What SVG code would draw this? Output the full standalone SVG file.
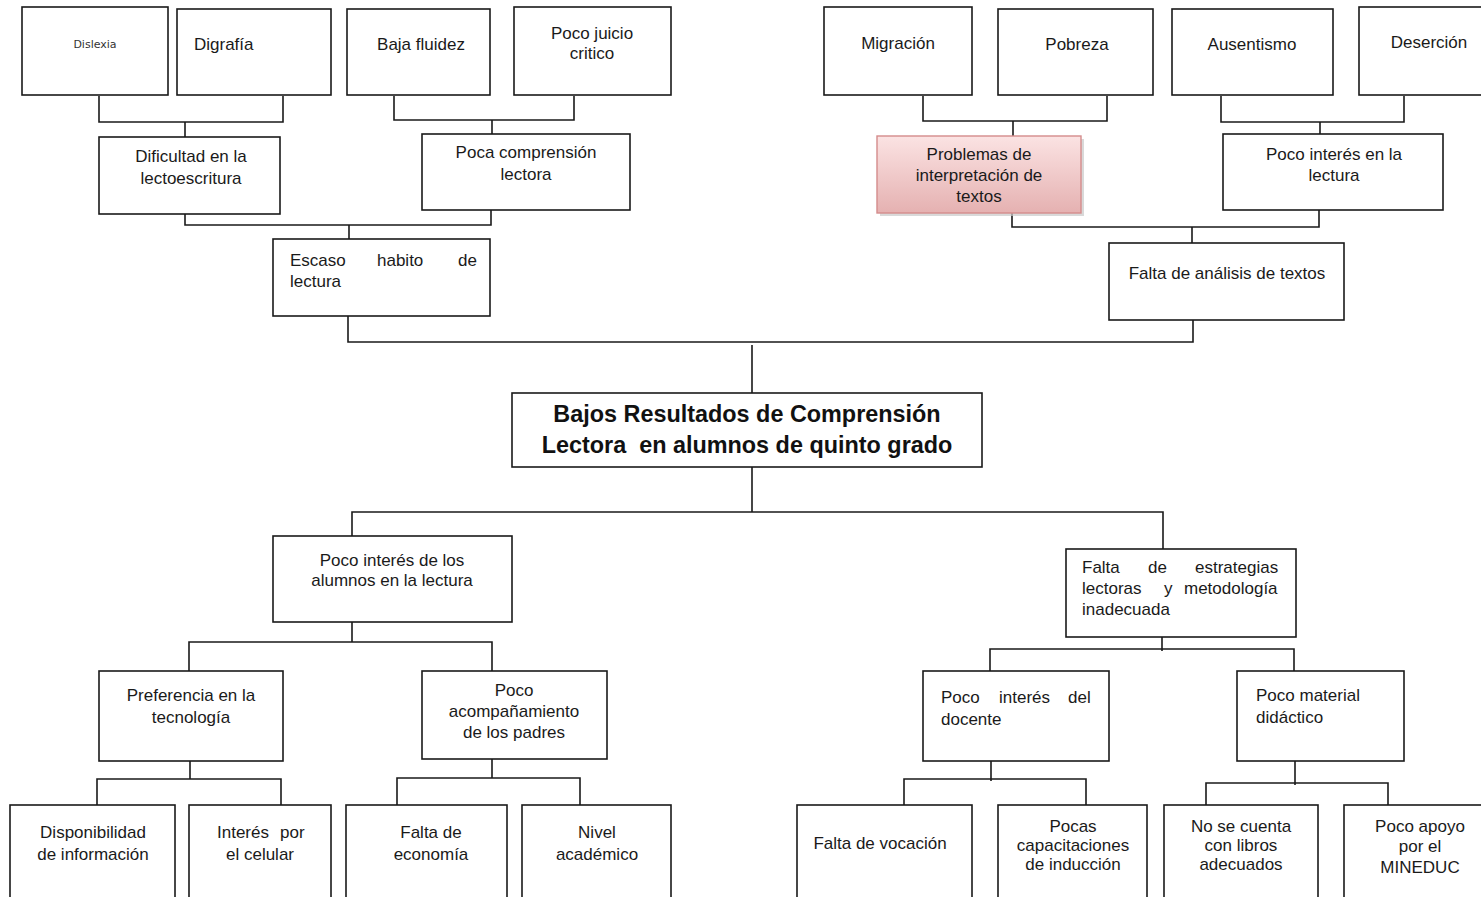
<svg xmlns="http://www.w3.org/2000/svg" width="1481" height="897" viewBox="0 0 1481 897">
<style>
.b{fill:#fff;stroke:#1a1a1a;stroke-width:1.6}
.t{font-family:"Liberation Sans",Arial,sans-serif;font-size:17px;fill:#1a1a1a}
.c{text-anchor:middle}
.w{fill:none;stroke:#1a1a1a;stroke-width:1.6}
.m{font-family:"Liberation Sans",Arial,sans-serif;font-size:23.4px;font-weight:bold;fill:#111;text-anchor:middle}
</style>
<defs>
<linearGradient id="pink" x1="0" y1="0" x2="0" y2="1">
<stop offset="0" stop-color="#fbe3e3"/>
<stop offset="1" stop-color="#e5b1b1"/>
</linearGradient>
</defs>
<rect width="1481" height="897" fill="#fff"/>
<g id="connectors" class="w">
<path d="M99,96V122H283V96M185,122V137"/>
<path d="M394,96V120H574V96M492,120V134"/>
<path d="M185,214V225H491V210M349,225V239"/>
<path d="M923,96V121H1107V96M1013,121V136"/>
<path d="M1221,96V122H1404V96M1320,122V134"/>
<path d="M1012,213V227H1319V210M1192,227V243"/>
<path d="M348,316V342H1193V320M752,345V393"/>
<path d="M752,467V512M352,536V512H1163V549"/>
<path d="M352,622V642M189,671V642H492V671"/>
<path d="M1162,637V651M990,671V649H1294V671"/>
<path d="M190,761V779M97,805V779H281V805"/>
<path d="M492,759V778M397,805V778H580V805"/>
<path d="M991,761V781M904,805V779H1086V805"/>
<path d="M1295,761V785M1206,805V783H1388V805"/>
</g>
<g id="n-dislexia"><rect class="b" x="22" y="7" width="146" height="88"/><text x="95" y="48" text-anchor="middle" font-family="DejaVu Sans,sans-serif" font-size="11" fill="#333">Dislexia</text></g>
<g id="n-digrafia"><rect class="b" x="177" y="9" width="154" height="86"/><text class="t" x="194" y="50">Digrafía</text></g>
<g id="n-baja"><rect class="b" x="347" y="9" width="143" height="86"/><text class="t c" x="421" y="50">Baja fluidez</text></g>
<g id="n-juicio"><rect class="b" x="514" y="7" width="157" height="88"/><text class="t c"><tspan x="592" y="39">Poco juicio</tspan><tspan x="592" y="59">critico</tspan></text></g>
<g id="n-migracion"><rect class="b" x="824" y="7" width="148" height="88"/><text class="t c" x="898" y="49">Migración</text></g>
<g id="n-pobreza"><rect class="b" x="998" y="9" width="155" height="86"/><text class="t c" x="1077" y="50">Pobreza</text></g>
<g id="n-ausentismo"><rect class="b" x="1172" y="9" width="161" height="86"/><text class="t c" x="1252" y="50">Ausentismo</text></g>
<g id="n-desercion"><rect class="b" x="1359" y="7" width="126" height="88"/><text class="t c" x="1429" y="48">Deserción</text></g>
<g id="n-dificultad"><rect class="b" x="99" y="137" width="181" height="77"/><text class="t c"><tspan x="191" y="162">Dificultad en la</tspan><tspan x="191" y="184">lectoescritura</tspan></text></g>
<g id="n-poca-comprension"><rect class="b" x="422" y="134" width="208" height="76"/><text class="t c"><tspan x="526" y="158">Poca comprensión</tspan><tspan x="526" y="180">lectora</tspan></text></g>
<g id="n-problemas"><rect x="880" y="139" width="204" height="77" fill="#c9c9c9" opacity="0.7"/><rect x="877" y="136" width="204" height="77" fill="url(#pink)" stroke="#d48c8c" stroke-width="1.4"/><text class="t c"><tspan x="979" y="160">Problemas de</tspan><tspan x="979" y="181">interpretación de</tspan><tspan x="979" y="202">textos</tspan></text></g>
<g id="n-poco-interes-lectura"><rect class="b" x="1223" y="134" width="220" height="76"/><text class="t c"><tspan x="1334" y="160">Poco interés en la</tspan><tspan x="1334" y="181">lectura</tspan></text></g>
<g id="n-escaso"><rect class="b" x="273" y="239" width="217" height="77"/><text class="t"><tspan x="290" y="266">Escaso</tspan><tspan x="377" y="266">habito</tspan><tspan x="458" y="266">de</tspan><tspan x="290" y="287">lectura</tspan></text></g>
<g id="n-falta-analisis"><rect class="b" x="1109" y="243" width="235" height="77"/><text class="t c" x="1227" y="279">Falta de análisis de textos</text></g>
<g id="n-main"><rect class="b" x="512" y="393" width="470" height="74"/><text class="m" xml:space="preserve"><tspan x="747" y="422">Bajos Resultados de Comprensión</tspan><tspan x="747" y="453">Lectora  en alumnos de quinto grado</tspan></text></g>
<g id="n-poco-interes-alumnos"><rect class="b" x="273" y="536" width="239" height="86"/><text class="t c"><tspan x="392" y="566">Poco interés de los</tspan><tspan x="392" y="586">alumnos en la lectura</tspan></text></g>
<g id="n-falta-estrategias"><rect class="b" x="1066" y="549" width="230" height="88"/><text class="t"><tspan x="1082" y="573">Falta</tspan><tspan x="1148" y="573">de</tspan><tspan x="1195" y="573">estrategias</tspan><tspan x="1082" y="594">lectoras</tspan><tspan x="1164" y="594">y</tspan><tspan x="1184" y="594">metodología</tspan><tspan x="1082" y="615">inadecuada</tspan></text></g>
<g id="n-preferencia"><rect class="b" x="99" y="671" width="184" height="90"/><text class="t c"><tspan x="191" y="701">Preferencia en la</tspan><tspan x="191" y="723">tecnología</tspan></text></g>
<g id="n-acompanamiento"><rect class="b" x="422" y="671" width="185" height="88"/><text class="t c"><tspan x="514" y="696">Poco</tspan><tspan x="514" y="717">acompañamiento</tspan><tspan x="514" y="738">de los padres</tspan></text></g>
<g id="n-docente"><rect class="b" x="923" y="671" width="186" height="90"/><text class="t"><tspan x="941" y="703">Poco</tspan><tspan x="999" y="703">interés</tspan><tspan x="1068" y="703">del</tspan><tspan x="941" y="725">docente</tspan></text></g>
<g id="n-material"><rect class="b" x="1237" y="671" width="167" height="90"/><text class="t"><tspan x="1256" y="701">Poco material</tspan><tspan x="1256" y="723">didáctico</tspan></text></g>
<g id="n-disponibilidad"><rect class="b" x="10" y="805" width="165" height="96"/><text class="t c"><tspan x="93" y="838">Disponibilidad</tspan><tspan x="93" y="860">de información</tspan></text></g>
<g id="n-celular"><rect class="b" x="189" y="805" width="142" height="96"/><text class="t"><tspan x="217" y="838">Interés</tspan><tspan x="280" y="838">por</tspan><tspan x="260" y="860" text-anchor="middle">el celular</tspan></text></g>
<g id="n-economia"><rect class="b" x="346" y="805" width="161" height="96"/><text class="t c"><tspan x="431" y="838">Falta de</tspan><tspan x="431" y="860">economía</tspan></text></g>
<g id="n-nivel"><rect class="b" x="522" y="805" width="149" height="96"/><text class="t c"><tspan x="597" y="838">Nivel</tspan><tspan x="597" y="860">académico</tspan></text></g>
<g id="n-vocacion"><rect class="b" x="797" y="805" width="175" height="96"/><text class="t c" x="880" y="849">Falta de vocación</text></g>
<g id="n-capacitaciones"><rect class="b" x="998" y="805" width="149" height="96"/><text class="t c"><tspan x="1073" y="832">Pocas</tspan><tspan x="1073" y="851">capacitaciones</tspan><tspan x="1073" y="870">de inducción</tspan></text></g>
<g id="n-libros"><rect class="b" x="1164" y="805" width="154" height="96"/><text class="t c"><tspan x="1241" y="832">No se cuenta</tspan><tspan x="1241" y="851">con libros</tspan><tspan x="1241" y="870">adecuados</tspan></text></g>
<g id="n-mineduc"><rect class="b" x="1344" y="805" width="140" height="96"/><text class="t c"><tspan x="1420" y="832">Poco apoyo</tspan><tspan x="1420" y="852">por el</tspan><tspan x="1420" y="873">MINEDUC</tspan></text></g>
</svg>
